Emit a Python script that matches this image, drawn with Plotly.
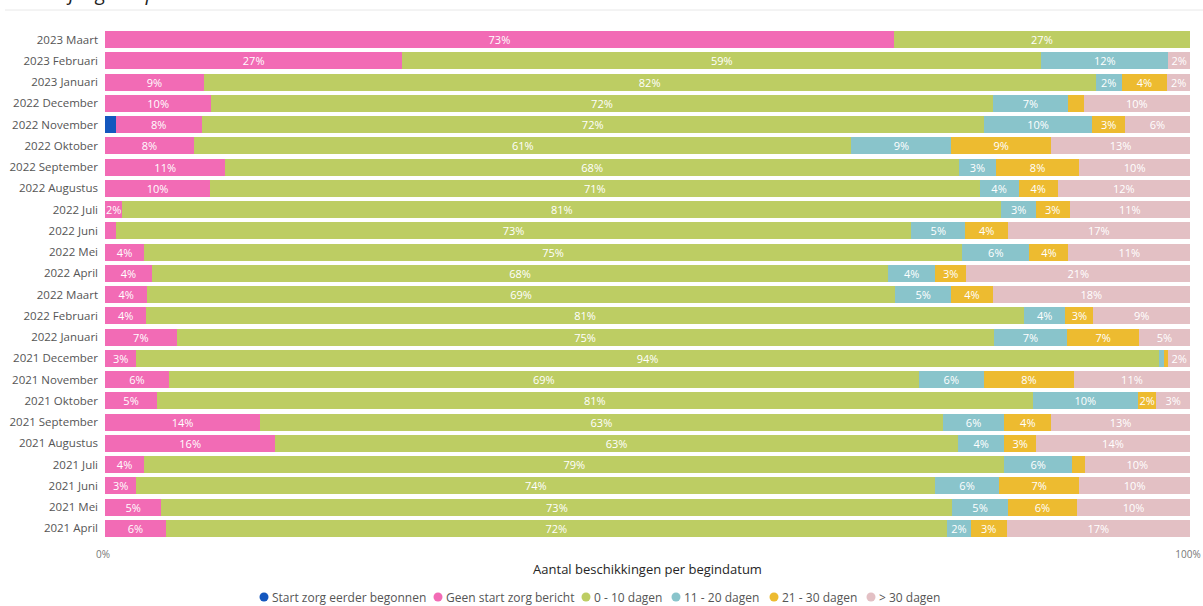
import plotly.graph_objects as go

categories = ["2023 Maart", "2023 Februari", "2023 Januari", "2022 December", "2022 November",
              "2022 Oktober", "2022 September", "2022 Augustus", "2022 Juli", "2022 Juni",
              "2022 Mei", "2022 April", "2022 Maart", "2022 Februari", "2022 Januari",
              "2021 December", "2021 November", "2021 Oktober", "2021 September",
              "2021 Augustus", "2021 Juli", "2021 Juni", "2021 Mei", "2021 April"]

start_eerder = [0, 0, 0, 0, 1.0, 0, 0, 0, 0, 0, 0, 0, 0, 0, 0, 0, 0, 0, 0, 0, 0, 0, 0, 0]
geen_start = [72.7, 27.4, 9.1, 9.8, 7.9, 8.2, 11.1, 9.7, 1.6, 1.0, 3.6, 4.3, 3.9, 3.8, 6.6,
              2.9, 5.9, 4.8, 14.3, 15.7, 3.6, 2.9, 5.2, 5.6]
dagen_0_10 = [27.3, 58.9, 82.2, 72.0, 72.1, 60.6, 67.6, 70.9, 81.0, 73.3, 75.4, 67.9, 68.9, 80.9, 75.3,
              94.2, 69.1, 80.7, 62.9, 62.9, 79.3, 73.6, 72.9, 72.0]
dagen_11_20 = [0, 11.7, 2.4, 7.0, 10.0, 9.2, 3.4, 3.6, 3.2, 5.0, 6.2, 4.3, 5.2, 3.8, 6.8,
               0.5, 6.0, 9.7, 5.7, 4.3, 6.2, 5.9, 5.1, 2.2]
dagen_21_30 = [0, 0, 4.2, 1.4, 3.0, 9.2, 7.7, 3.6, 3.1, 3.9, 3.6, 2.9, 3.8, 2.6, 6.6,
               0.4, 8.3, 1.7, 4.3, 2.9, 1.2, 7.4, 6.4, 3.3]
dagen_30_plus = [0, 2.0, 2.1, 9.8, 6.0, 12.8, 10.2, 12.2, 11.1, 16.8, 11.2, 20.6, 18.2, 8.9, 4.7,
                 2.0, 10.7, 3.1, 12.8, 14.2, 9.7, 10.2, 10.4, 16.9]

series_names = ["Start zorg eerder begonnen", "Geen start zorg bericht", "0 - 10 dagen",
                "11 - 20 dagen", "21 - 30 dagen", "> 30 dagen"]
series_values = [start_eerder, geen_start, dagen_0_10, dagen_11_20, dagen_21_30, dagen_30_plus]
series_colors = ["#1457BE", "#F26BB5", "#BDCD63", "#89C4CB", "#EDBB30", "#E3C0C4"]

x_tick_vals = [0, 100]
x_tick_text = ["0%", "100%"]

FONT = "Open Sans"

# layout geometry (pixels)
W, H = 1203, 606
L, R, T, B = 105, 13, 29, 67
PW, PH = W - L - R, H - T - B


def px_x(px):
    return (px - L) / PW


def px_y(py):
    return (H - B - py) / PH


fig = go.Figure()
for name, vals, color in zip(series_names, series_values, series_colors):
    labels = [f"{round(v)}%" if v >= 1.5 else "" for v in vals]
    fig.add_trace(go.Bar(
        y=categories, x=vals, name=name, orientation="h",
        marker=dict(color=color, line=dict(width=0)),
        text=labels, textposition="inside", insidetextanchor="middle",
        textangle=0, textfont=dict(color="white", size=11, family=FONT),
        showlegend=False, hoverinfo="x+y+name",
    ))

# custom legend (circle + label), laid out like the reference
legend_text_x = [270, 444, 592, 682, 780, 877]
legend_y = px_y(597)
shapes = [dict(
    type="line", xref="paper", yref="paper",
    x0=px_x(5), x1=px_x(W), y0=px_y(10), y1=px_y(10),
    line=dict(color="#e8e8e8", width=1),
)]
annotations = [dict(
    text="<i>Lokale jeugdhulp</i>", xref="paper", yref="paper",
    x=px_x(5), y=px_y(8), xanchor="left", yanchor="bottom", showarrow=False,
    font=dict(size=20, color="#222222", family=FONT),
)]
for name, color, tx in zip(series_names, series_colors, legend_text_x):
    shapes.append(dict(
        type="circle", xref="paper", yref="paper",
        xsizemode="pixel", ysizemode="pixel",
        xanchor=px_x(tx - 6), yanchor=legend_y,
        x0=-4.5, x1=4.5, y0=-4.5, y1=4.5,
        fillcolor=color, line=dict(width=0),
    ))
    annotations.append(dict(
        text=name.replace(">", "&gt;"), xref="paper", yref="paper", x=px_x(tx), y=legend_y,
        xanchor="left", yanchor="middle", showarrow=False,
        font=dict(size=12, color="#555555", family=FONT),
    ))

fig.update_layout(
    barmode="stack",
    bargap=0.2,
    width=W, height=H,
    margin=dict(l=L, r=R, t=T, b=B, autoexpand=False),
    paper_bgcolor="white", plot_bgcolor="white",
    font=dict(family=FONT, size=11, color="#555555"),
    uniformtext=dict(minsize=11, mode="show"),
    showlegend=False,
    xaxis=dict(
        range=[0, 100], tickvals=x_tick_vals, ticktext=x_tick_text,
        showgrid=True, gridcolor="#d9d9d9", griddash="dot", gridwidth=1,
        zeroline=False, showline=False, automargin=False,
        tickfont=dict(size=10, color="#777777"), ticklabelshift=-2,
        ticks="outside", ticklen=6, tickcolor="white",
        title=dict(text="Aantal beschikkingen per begindatum",
                   font=dict(size=13, color="#252525", family=FONT), standoff=4),
    ),
    yaxis=dict(
        categoryorder="array", categoryarray=categories, autorange="reversed",
        showgrid=False, zeroline=False, showline=False, automargin=False,
        tickfont=dict(size=11.5, color="#555555"), ticks="", ticklabelstandoff=6,
    ),
    annotations=annotations,
    shapes=shapes,
)

fig.write_html(
    "out.html",
    config={"displayModeBar": False},
    post_script="document.body.style.margin='0';document.body.style.padding='0';",
)
